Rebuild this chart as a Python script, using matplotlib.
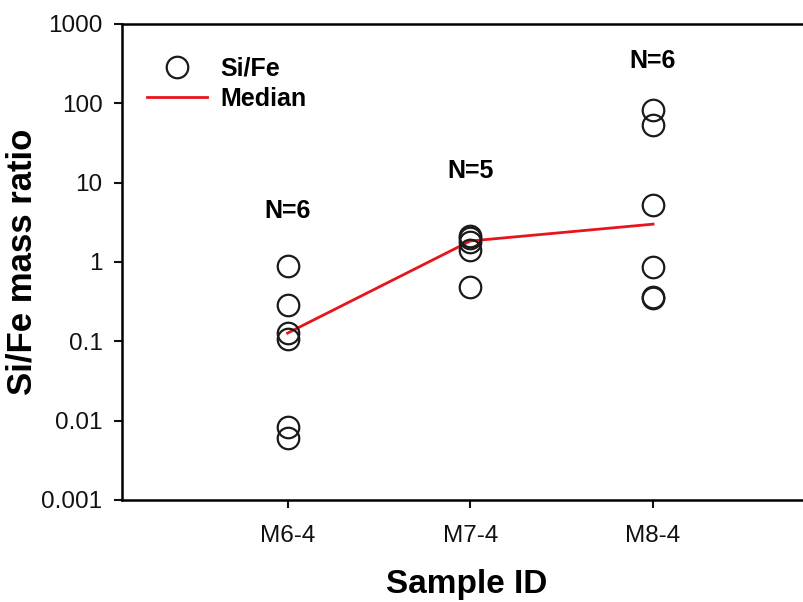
import matplotlib
matplotlib.use("Agg")
import matplotlib.pyplot as plt

plt.rcParams['font.family'] = ['Liberation Sans', 'DejaVu Sans']

categories = ["M6-4", "M7-4", "M8-4"]
sife_m6 = [0.90, 0.29, 0.127, 0.108, 0.0083, 0.0060]
sife_m7 = [2.15, 2.0, 1.8, 1.4, 0.48]
sife_m8 = [82, 53, 5.2, 0.86, 0.36, 0.35]
medians = [0.127, 1.84, 3.0]
n_labels = ["N=6", "N=5", "N=6"]
n_label_y = [4.4, 14.0, 340]
yticks = [0.001, 0.01, 0.1, 1, 10, 100, 1000]
ytick_labels = ["0.001", "0.01", "0.1", "1", "10", "100", "1000"]

fig = plt.figure(figsize=(8.04, 6.02), dpi=100)
ax = fig.add_axes([122/804, 102/602, 1 - 122/804 + 0.01, 476/602])

groups = [sife_m6, sife_m7, sife_m8]
for i, vals in enumerate(groups):
    ax.plot([i + 1] * len(vals), vals, linestyle='none', marker='o',
            markersize=15.5, markerfacecolor='none', markeredgecolor='#1a1a1a',
            markeredgewidth=1.6, label='Si/Fe' if i == 0 else None, zorder=3)

ax.plot([1, 2, 3], medians, color='#e8141c', linewidth=2, label='Median', zorder=2)

for i, (t, y) in enumerate(zip(n_labels, n_label_y)):
    ax.text(i + 1, y, t, ha='center', va='center', fontsize=18, fontweight='bold')

ax.set_yscale('log')
ax.set_ylim(0.001, 1000)
ax.set_yticks(yticks)
ax.set_yticklabels(ytick_labels)
ax.minorticks_off()
ax.set_xlim(0.094, 3.87)
ax.set_xticks([1, 2, 3])
ax.set_xticklabels(categories)

ax.tick_params(axis='both', labelsize=17.5, direction='out', length=6, width=1.5, colors='#111111')
ax.tick_params(axis='x', pad=12)
ax.tick_params(axis='y', pad=8)
for s in ['left', 'bottom', 'top']:
    ax.spines[s].set_linewidth(1.8)
ax.spines['right'].set_visible(False)

ax.set_ylabel("Si/Fe mass ratio", fontsize=25, fontweight='bold', labelpad=2)
ax.set_xlabel("Sample ID", fontsize=24, fontweight='bold', labelpad=16)

leg = ax.legend(loc='upper left', bbox_to_anchor=(147/804, 1 - 57/602),
                bbox_transform=fig.transFigure, frameon=False,
                prop={'weight': 'bold', 'size': 18}, handlelength=2.4,
                handletextpad=0.55, labelspacing=0.22, borderaxespad=0,
                borderpad=0)

fig.savefig("out.png", dpi=100)
